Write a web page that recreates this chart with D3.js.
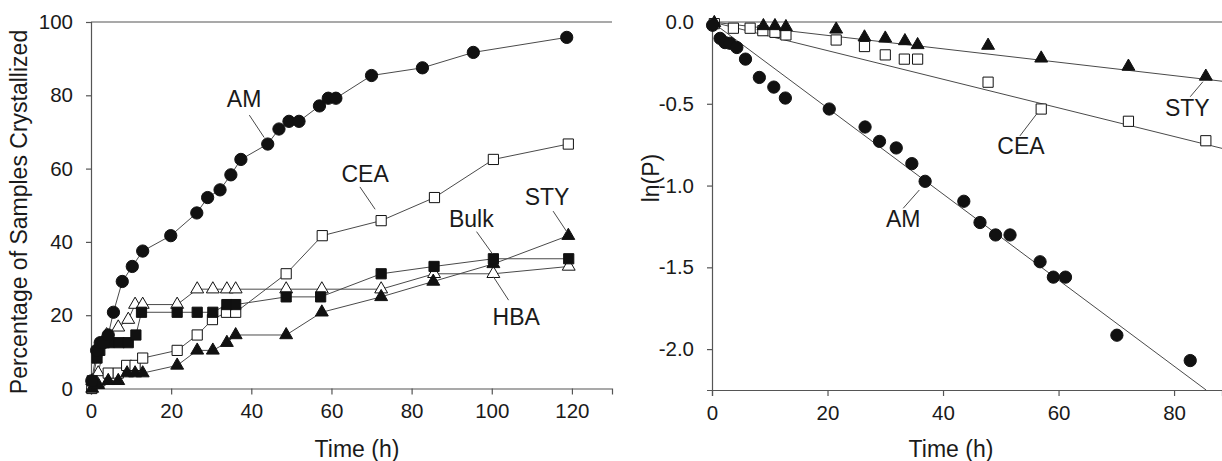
<!DOCTYPE html>
<html>
<head>
<meta charset="utf-8">
<script src="https://cdn.jsdelivr.net/npm/d3@7"></script>
<style>
  body { margin: 0; background: #fff; }
  text { font-family: "Liberation Sans", Arial, Helvetica, sans-serif; fill: #1a1a1a; }
</style>
</head>
<body>
<svg id="chart" width="1222" height="461"></svg>
<script>
// ---- Left panel: percentage of samples crystallized vs time (h) ----
const amPct   = [[0.2,2.1],[1.4,10.4],[2.3,12.5],[3.1,12.5],[4.3,14.6],[5.6,20.8],[7.8,29.2],[10.3,33.3],[12.9,37.5],[19.9,41.7],[26.4,47.9],[29.1,52.1],[32.2,54.2],[34.9,58.3],[37.4,62.5],[44.1,66.7],[46.9,70.8],[49.4,72.9],[51.9,72.9],[57.0,77.1],[59.2,79.2],[61.1,79.2],[70.0,85.4],[82.7,87.5],[95.4,91.7],[118.7,95.8]];
const ceaPct  = [[0.2,0],[2.2,2.1],[4.3,4.2],[6.8,4.2],[8.9,6.3],[11.0,6.3],[12.9,8.3],[21.5,10.4],[26.5,14.6],[30.3,18.8],[33.8,20.8],[36.1,20.8],[48.7,31.3],[57.7,41.7],[72.4,45.8],[85.7,52.1],[100.4,62.5],[119.1,66.7]];
const bulkPct = [[0.3,2.1],[1.5,8.3],[2.2,10.4],[3.3,12.5],[4.5,12.5],[7.0,12.5],[9.3,12.5],[11.2,14.6],[12.6,20.8],[21.5,20.8],[26.5,20.8],[30.4,20.8],[33.9,22.9],[36.1,22.9],[48.7,25.0],[57.3,25.0],[72.4,31.3],[85.6,33.3],[100.4,35.4],[119.2,35.4]];
const styPct  = [[0.3,0],[1.8,1.0],[4.3,2.1],[6.8,2.1],[9.0,4.2],[11.0,4.2],[12.9,4.2],[21.5,6.3],[26.5,10.4],[30.4,10.4],[33.9,12.5],[36.1,14.6],[48.7,14.6],[57.6,20.8],[72.4,25.0],[85.4,29.2],[100.4,34.0],[119.1,41.7]];
const hbaPct  = [[0.3,2.1],[1.8,4.2],[3.9,14.6],[6.8,16.7],[9.3,18.8],[11.0,22.9],[12.9,22.9],[21.5,22.9],[26.5,27.1],[30.4,27.1],[33.9,27.1],[36.1,27.1],[48.7,27.1],[57.6,27.1],[72.4,27.1],[85.6,31.3],[100.4,31.3],[119.2,33.3]];

const leftXTicks = [0, 20, 40, 60, 80, 100, 120];
const leftYTicks = [0, 20, 40, 60, 80, 100];

// ---- Right panel: ln(P) vs time (h) with linear fits ----
const amLn  = [[0.1,-0.02],[1.4,-0.10],[2.25,-0.126],[3.1,-0.13],[4.3,-0.156],[5.8,-0.227],[8.2,-0.339],[10.7,-0.398],[12.7,-0.465],[20.3,-0.532],[26.5,-0.642],[29.0,-0.73],[31.9,-0.77],[34.6,-0.866],[36.9,-0.974],[43.6,-1.096],[46.4,-1.226],[49.1,-1.302],[51.6,-1.302],[56.8,-1.466],[59.1,-1.56],[61.2,-1.56],[70.1,-1.915],[82.8,-2.07]];
const ceaLn = [[0.4,-0.01],[3.7,-0.038],[6.6,-0.038],[8.8,-0.053],[10.9,-0.063],[12.8,-0.079],[21.5,-0.110],[26.4,-0.150],[30.0,-0.201],[33.3,-0.227],[35.6,-0.227],[47.8,-0.368],[57.0,-0.532],[72.1,-0.607],[85.5,-0.726]];
const styLn = [[0.4,-0.005],[8.9,-0.024],[10.9,-0.024],[12.8,-0.03],[21.5,-0.045],[26.4,-0.093],[30.0,-0.10],[33.4,-0.116],[35.6,-0.14],[47.8,-0.144],[57.0,-0.222],[72.1,-0.272],[85.5,-0.333]];
// fitted first-order rate constants (slope of ln(P) vs t, per hour)
const fitNames  = ["AM", "CEA", "STY"];
const fitSlopes = [-0.0263, -0.00875, -0.0041];

const rightXTicks = [0, 20, 40, 60, 80];
const rightYTicks = [0, -0.5, -1.0, -1.5, -2.0];

// label text position [t, y] and leader line [t1, y1, t2, y2] in data units
const leftLabels = [
  { text: "AM",   at: [38.2, 76.8],  lead: [39.5, 74.6, 43.2, 68.5] },
  { text: "CEA",  at: [68.4, 56.4],  lead: [67.1, 55.0, 70.9, 48.9] },
  { text: "Bulk", at: [94.9, 44.1],  lead: [96.2, 42.8, 100.2, 36.7] },
  { text: "STY",  at: [113.8, 50.1], lead: [115.3, 48.4, 118.7, 42.8] },
  { text: "HBA",  at: [106.1, 17.3], lead: [104.2, 24.1, 100.4, 30.5] }
];
const rightLabels = [
  { text: "STY", at: [82.3, -0.575], lead: [82.8, -0.457, 85.0, -0.365] },
  { text: "CEA", at: [53.5, -0.807], lead: [53.3, -0.697, 56.3, -0.558] },
  { text: "AM",  at: [33.1, -1.255], lead: [33.1, -1.139, 35.9, -1.027] }
];

const svg = d3.select("#chart");
const AXIS = "#555";
const LINE = "#4a4a4a";
const INK = "#111";

const sym = {
  circle:   d3.symbol().type(d3.symbolCircle).size(118)(),
  square:   d3.symbol().type(d3.symbolSquare).size(104)(),
  triangle: d3.symbol().type(d3.symbolTriangle).size(72)()
};

function drawMarkers(g, x, y, data, shape, filled) {
  g.append("g").selectAll("path").data(data).join("path")
    .attr("d", sym[shape])
    .attr("transform", d => `translate(${x(d[0])},${y(d[1])})`)
    .attr("fill", filled ? INK : "#fff")
    .attr("stroke", INK)
    .attr("stroke-width", 1);
}

function drawSeriesLine(g, x, y, data) {
  g.append("path").datum(data)
    .attr("d", d3.line().x(d => x(d[0])).y(d => y(d[1])))
    .attr("fill", "none").attr("stroke", LINE).attr("stroke-width", 1);
}

function drawFrame(g, x, y, xTicks, yTicks, yFmt) {
  const [x0, x1] = x.range();
  const [yb, yt] = y.range();
  const xa = g.append("g").attr("transform", `translate(0,${yb})`)
    .call(d3.axisBottom(x).tickValues(xTicks).tickSize(6).tickPadding(9).tickFormat(d3.format("d")));
  const ya = g.append("g").attr("transform", `translate(${x0},0)`)
    .call(d3.axisLeft(y).tickValues(yTicks).tickSize(5).tickPadding(13).tickFormat(yFmt));
  [xa, ya].forEach(a => {
    a.select(".domain").attr("stroke", AXIS).attr("stroke-width", 1.2);
    a.selectAll(".tick line").attr("stroke", AXIS).attr("stroke-width", 1.2);
    a.selectAll(".tick text").style("font-size", "20.5px").attr("fill", "#1a1a1a");
  });
  g.append("line").attr("x1", x0).attr("x2", x1).attr("y1", yt).attr("y2", yt)
    .attr("stroke", AXIS).attr("stroke-width", 1.2);
}

function drawLabels(g, x, y, labels) {
  labels.forEach(l => {
    g.append("line")
      .attr("x1", x(l.lead[0])).attr("y1", y(l.lead[1]))
      .attr("x2", x(l.lead[2])).attr("y2", y(l.lead[3]))
      .attr("stroke", LINE).attr("stroke-width", 1);
    g.append("text").attr("x", x(l.at[0])).attr("y", y(l.at[1]))
      .attr("text-anchor", "middle").style("font-size", "23px").text(l.text);
  });
}

// ---------- left panel ----------
{
  const g = svg.append("g");
  const x = d3.scaleLinear().domain([0, 130]).range([91, 612]);
  const y = d3.scaleLinear().domain([0, 100]).range([388.5, 22]);
  drawFrame(g, x, y, leftXTicks, leftYTicks, d3.format("d"));

  [amPct, ceaPct, bulkPct, styPct, hbaPct].forEach(s => drawSeriesLine(g, x, y, s));
  drawMarkers(g, x, y, hbaPct, "triangle", false);
  drawMarkers(g, x, y, ceaPct, "square", false);
  drawMarkers(g, x, y, styPct, "triangle", true);
  drawMarkers(g, x, y, bulkPct, "square", true);
  drawMarkers(g, x, y, amPct, "circle", true);
  drawLabels(g, x, y, leftLabels);

  g.append("text").attr("transform", `translate(27,212) rotate(-90)`)
    .attr("text-anchor", "middle").style("font-size", "23px")
    .text("Percentage of Samples Crystallized");
  g.append("text").attr("x", 357).attr("y", 457)
    .attr("text-anchor", "middle").style("font-size", "23px").text("Time (h)");
}

// ---------- right panel ----------
{
  const g = svg.append("g");
  const x = d3.scaleLinear().domain([0, 88.3]).range([712, 1222]);
  const y = d3.scaleLinear().domain([-2.25, 0]).range([390, 22]);
  drawFrame(g, x, y, rightXTicks, rightYTicks, d => d.toFixed(1));

  // fitted lines through the origin, clipped to the plot area
  const [tMin, tMax] = x.domain();
  const yMin = y.domain()[0];
  fitSlopes.forEach(k => {
    const tEnd = Math.min(tMax, yMin / k);
    g.append("line")
      .attr("x1", x(0)).attr("y1", y(0))
      .attr("x2", x(tEnd)).attr("y2", y(k * tEnd))
      .attr("stroke", LINE).attr("stroke-width", 1);
  });

  drawMarkers(g, x, y, ceaLn, "square", false);
  drawMarkers(g, x, y, styLn, "triangle", true);
  drawMarkers(g, x, y, amLn, "circle", true);
  drawLabels(g, x, y, rightLabels);

  g.append("text").attr("transform", `translate(659,178) rotate(-90)`)
    .attr("text-anchor", "middle").style("font-size", "23px").text("ln(P)");
  g.append("text").attr("x", 951).attr("y", 457)
    .attr("text-anchor", "middle").style("font-size", "23px").text("Time (h)");
}
</script>
</body>
</html>
